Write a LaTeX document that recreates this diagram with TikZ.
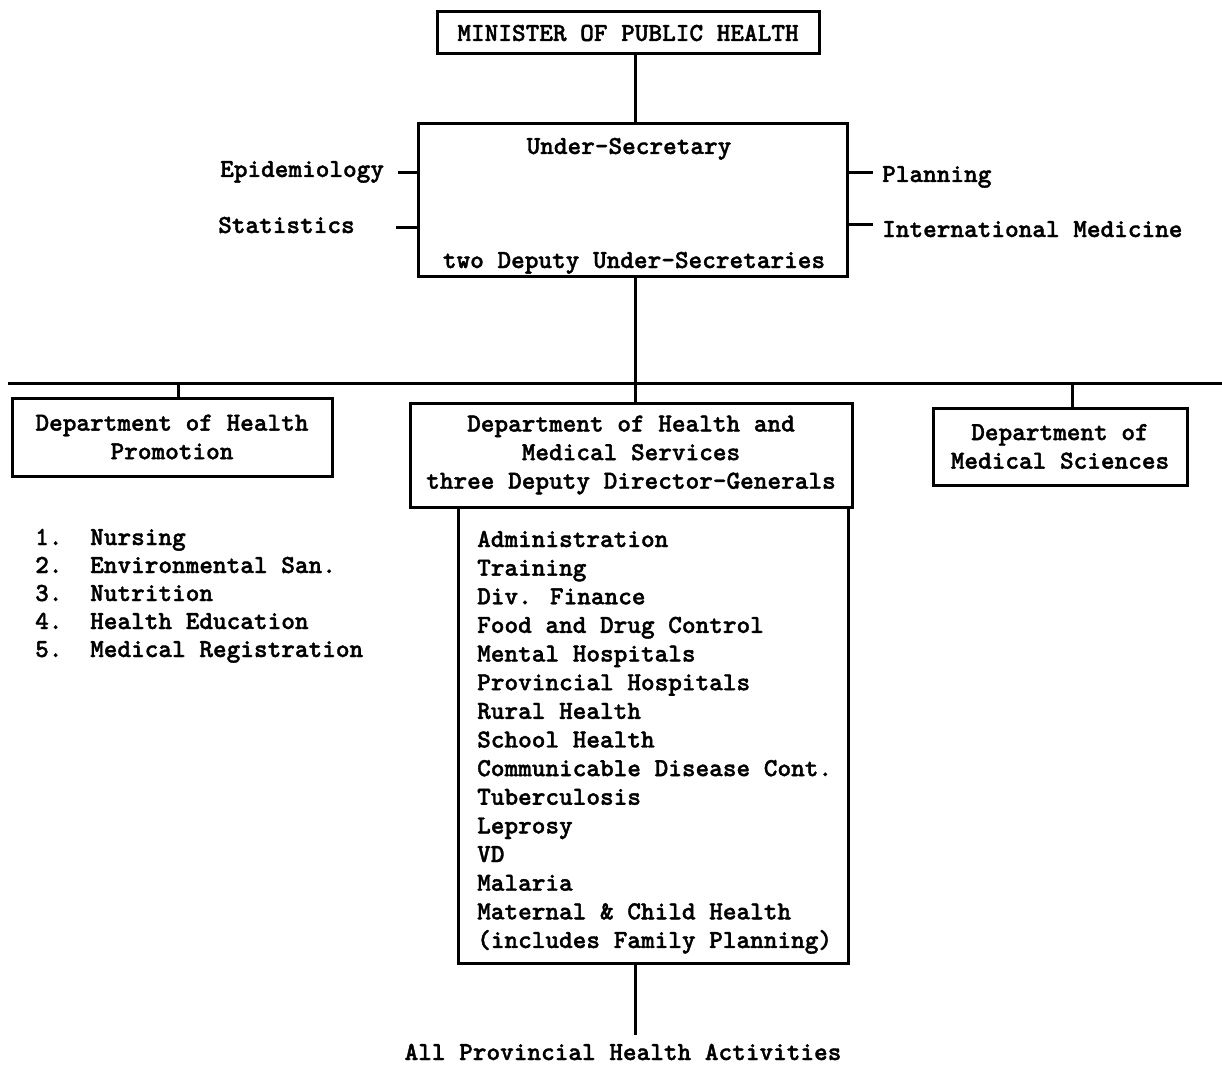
\documentclass[tikz,border=0pt]{standalone}
\usepackage{fontspec}
% bold serif typewriter face
\newfontfamily\tw{lmmonolt10-bold.otf}[FakeBold=1.4]
\begin{document}
\begin{tikzpicture}[x=1pt,y=-1pt,
  every node/.style={font=\tw\fontsize{26}{28.6}\selectfont, inner sep=0pt},
  box/.style={draw, line width=3pt, rectangle, align=center},
  link/.style={line width=3pt},
]
\fill[white] (0,0) rectangle (1222,1067);
\useasboundingbox (0,0) rectangle (1222,1067);

% top of the hierarchy
\node[box, minimum width=382, minimum height=42] (min) at (628,33) {MINISTER OF PUBLIC HEALTH};
\node[box, minimum width=429, minimum height=152] (us) at (632.5,200) {};
\node[anchor=base] (ust) at (629,154) {Under-Secretary};
\node[anchor=base] (usd) at (634,268) {two Deputy Under-Secretaries};

% staff units beside the Under-Secretary
\node[anchor=base west] (epi) at (220,177) {Epidemiology};
\node[anchor=base west] (stat) at (218,233) {Statistics};
\node[anchor=base west] (plan) at (882,182) {Planning};
\node[anchor=base west] (intl) at (882,237) {International Medicine};
\coordinate (epiT) at (398,173);
\coordinate (statT) at (396,228);
\coordinate (planT) at (873,173);
\coordinate (intlT) at (873,225);
\draw[link] (epiT) -- (epiT -| us.west);
\draw[link] (statT) -- (statT -| us.west);
\draw[link] (planT) -- (planT -| us.east);
\draw[link] (intlT) -- (intlT -| us.east);

% departments
\node[box, minimum width=320, minimum height=78] (hp) at (172,437) {Department of Health\\Promotion};
\node[box, minimum width=442, minimum height=104] (hs) at (631,455) {Department of Health and\\Medical Services\\three Deputy Director-Generals};
\node[box, minimum width=254, minimum height=77] (ms) at (1060,446.5) {Department of\\Medical Sciences};
\node[box, minimum width=390, minimum height=456] (list) at (653,735) {};

% trunk and bus
\coordinate (trunk) at (635,0);
\coordinate (busL) at (8,383);
\coordinate (busR) at (1222,383);
\coordinate (hpD) at (178,383);
\coordinate (msD) at (1072,383);
\draw[link] (min.south -| trunk) -- (us.north -| trunk);
\draw[link] (us.south -| trunk) -- (hs.north -| trunk);
\draw[link] (busL) -- (busR);
\draw[link] (hpD) -- (hpD |- hp.north);
\draw[link] (msD) -- (msD |- ms.north);

% sections of Health Promotion
\foreach \t [count=\i] in {Nursing, Environmental San., Nutrition, Health Education, Medical Registration} {
  \node[anchor=base west] (hpn\i) at (35,{545+(\i-1)*28}) {\i.};
  \node[anchor=base west] (hpi\i) at (90,{545+(\i-1)*28}) {\t};
}

% divisions of Health and Medical Services
\foreach \t [count=\i] in {Administration, Training, Div. Finance, Food and Drug Control,
  Mental Hospitals, Provincial Hospitals, Rural Health, School Health,
  Communicable Disease Cont., Tuberculosis, Leprosy, VD, Malaria,
  Maternal \& Child Health, {(includes Family Planning)}} {
  \node[anchor=base west] (hsi\i) at (477,{547+(\i-1)*28.64}) {\t};
}

% provincial level
\node[anchor=base] (all) at (623,1060) {All Provincial Health Activities};
\coordinate (allT) at (635,1035);
\draw[link] (list.south -| trunk) -- (allT);
\end{tikzpicture}
\end{document}
